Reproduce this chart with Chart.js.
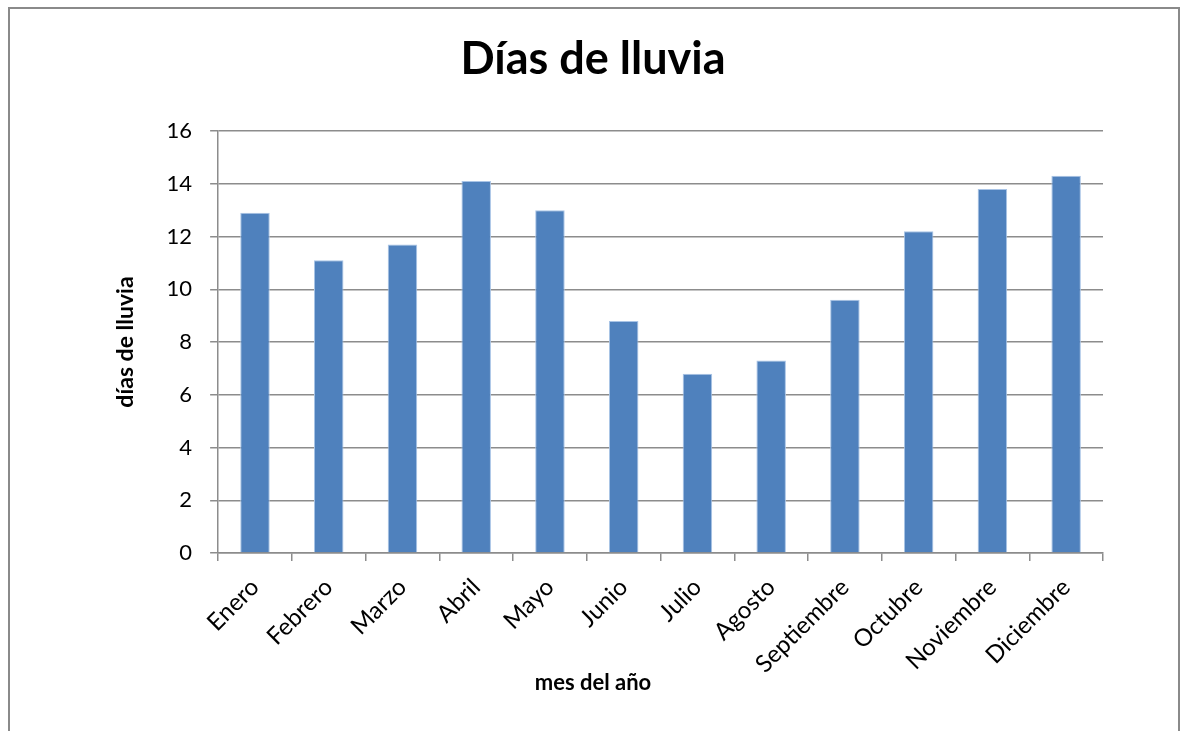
<!DOCTYPE html>
<html>
<head>
<meta charset="utf-8">
<script src="https://cdn.jsdelivr.net/npm/chart.js@4/dist/chart.umd.min.js"></script>
<style>
html,body{margin:0;padding:0;background:#fff;overflow:hidden;}
#box{position:absolute;left:8px;top:7px;width:1168px;height:760px;border:2px solid #8a8a8a;border-bottom:none;}
#wrap{position:absolute;left:0;top:0;width:1168px;height:760px;}
</style>
</head>
<body>
<div id="box"><div id="wrap"><canvas id="c"></canvas></div></div>
<script>
const categories = ["Enero","Febrero","Marzo","Abril","Mayo","Junio","Julio","Agosto","Septiembre","Octubre","Noviembre","Diciembre"];
const rainyDays = [12.9, 11.1, 11.7, 14.1, 13.0, 8.8, 6.8, 7.3, 9.6, 12.2, 13.8, 14.3];
const yTicks = [0, 2, 4, 6, 8, 10, 12, 14, 16];
const chartTitle = "Días de lluvia";
const xTitle = "mes del año";
const yTitle = "días de lluvia";

const FONT = "Lato, 'Open Sans', sans-serif";
const gridColor = "#8c8c8c";

new Chart(document.getElementById('c'), {
  type: 'bar',
  data: {
    labels: categories,
    datasets: [{
      data: rainyDays,
      backgroundColor: '#4f81bd',
      borderColor: '#a9c4e6',
      borderWidth: {left:1,right:1,top:1,bottom:0},
      barPercentage: 0.8,
      categoryPercentage: 0.5
    }]
  },
  options: {
    responsive: true,
    maintainAspectRatio: false,
    animation: false,
    layout: { padding: { left: 73, right: 75, top: 23, bottom: 73 } },
    plugins: {
      legend: { display: false },
      tooltip: { enabled: false },
      title: {
        display: true,
        text: chartTitle,
        color: '#000',
        font: { family: FONT, size: 45, weight: 'bold' },
        padding: { top: 0, bottom: 45 }
      },
      subtitle: {
        display: true,
        position: 'bottom',
        text: xTitle,
        color: '#000',
        font: { family: FONT, size: 22, weight: 'bold' },
        padding: { top: -21, bottom: 0 }
      }
    },
    scales: {
      x: {
        grid: { display: true, drawOnChartArea: false, color: gridColor, lineWidth: 1.5, tickLength: 8, offset: true },
        border: { display: true, color: gridColor, width: 1.5 },
        ticks: { color: '#000', font: { family: FONT, size: 24 }, minRotation: 45, maxRotation: 45, padding: 12, autoSkip: false },
        title: { display: false }
      },
      y: {
        min: 0, max: 16,
        afterBuildTicks: (s) => { s.ticks = yTicks.map(v => ({ value: v })); },
        grid: { color: gridColor, lineWidth: 1.5, tickLength: 8 },
        border: { display: true, color: gridColor, width: 1.5 },
        ticks: { color: '#000', font: { family: FONT, size: 22 }, padding: 18 },
        title: { display: true, text: yTitle, color: '#000', font: { family: FONT, size: 23, weight: 'bold' }, padding: { top: 29, bottom: 9 } }
      }
    }
  }
});
</script>
</body>
</html>
